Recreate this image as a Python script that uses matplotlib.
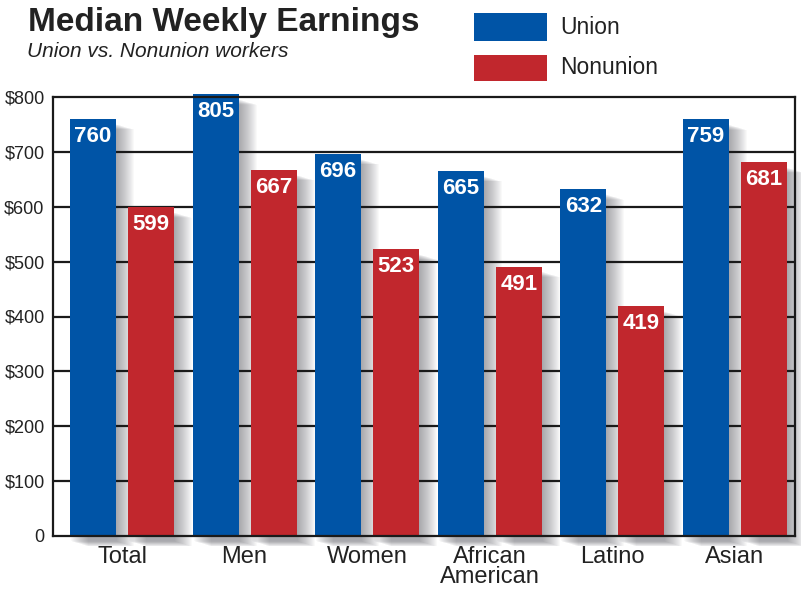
import matplotlib
matplotlib.use("Agg")
import matplotlib.pyplot as plt
import matplotlib.transforms as mtransforms
import numpy as np

categories = ["Total", "Men", "Women", "African\nAmerican", "Latino", "Asian"]
union = [760, 805, 696, 665, 632, 759]
nonunion = [599, 667, 523, 491, 419, 681]
ytick_vals = [0, 100, 200, 300, 400, 500, 600, 700, 800]
ytick_labels = ["0", "$100", "$200", "$300", "$400", "$500", "$600", "$700", "$800"]

BLUE = "#0054a6"
RED = "#c1272d"
FONT = "Liberation Sans"

plt.rcParams["font.family"] = [FONT, "DejaVu Sans"]

fig = plt.figure(figsize=(8.01, 5.92), dpi=100)
W, H = 801, 592
ax = fig.add_axes([53 / W, (592 - 536) / H, (795 - 53) / W, (536 - 97) / H])

x = np.arange(len(categories))
width = 0.375
off = 0.237

ax.set_xlim(-0.563, 5.49)
ax.set_ylim(0, 800)

# gridlines
for v in ytick_vals[1:-1]:
    ax.axhline(v, color="#1a1a1a", lw=1.6, zorder=2.5)

# soft shadows
n_layers = 18
for k in range(1, n_layers + 1):
    tr = ax.transData + mtransforms.ScaledTranslation(k * 1.0 / 100, -k * 0.3 / 100 - 0.05, fig.dpi_scale_trans)
    for xs, vals in ((x - off, union), (x + off, nonunion)):
        for xi, v in zip(xs, vals):
            r = plt.Rectangle((xi - width / 2, 0), width, v,
                              transform=tr, color="#4a4d55", alpha=0.033,
                              lw=0, zorder=2, clip_on=False)
            ax.add_patch(r)

bu = ax.bar(x - off, union, width, color=BLUE, zorder=3, clip_on=False, label="Union")
bn = ax.bar(x + off, nonunion, width, color=RED, zorder=3, clip_on=False, label="Nonunion")

for bars, vals in ((bu, union), (bn, nonunion)):
    for b, v in zip(bars, vals):
        ax.annotate(str(v), (b.get_x() + b.get_width() / 2, v), xytext=(0, -5),
                    textcoords="offset points", ha="center", va="top",
                    color="white", fontsize=16, fontweight="bold", zorder=5,
                    annotation_clip=False)

for s in ax.spines.values():
    s.set_linewidth(1.6)
    s.set_color("#1a1a1a")
    s.set_zorder(4)

ax.set_yticks(ytick_vals)
ax.set_yticklabels(ytick_labels, fontsize=13, color="#222222")
ax.set_xticks(x)
ax.set_xticklabels(categories, fontsize=17, color="#222222", linespacing=0.92)
ax.tick_params(axis="both", length=0)
ax.tick_params(axis="y", pad=6)
ax.tick_params(axis="x", pad=7)

fig.text(28 / W, 1 - 7 / H, "Median Weekly Earnings", fontsize=24, fontweight="bold",
         color="#222222", va="top", ha="left")
fig.text(27 / W, 1 - 42 / H, "Union vs. Nonunion workers", fontsize=15, style="italic",
         color="#222222", va="top", ha="left")

# legend
fig.patches.append(plt.Rectangle((474 / W, 1 - 41 / H), 73 / W, 28 / H, transform=fig.transFigure,
                                 color=BLUE, lw=0))
fig.patches.append(plt.Rectangle((474 / W, 1 - 81 / H), 73 / W, 26 / H, transform=fig.transFigure,
                                 color=RED, lw=0))
fig.text(560 / W, 1 - 27 / H, "Union", fontsize=16.5, color="#222222", va="center", ha="left")
fig.text(560 / W, 1 - 68 / H, "Nonunion", fontsize=16.5, color="#222222", va="center", ha="left")

fig.savefig("out.png", dpi=100)
